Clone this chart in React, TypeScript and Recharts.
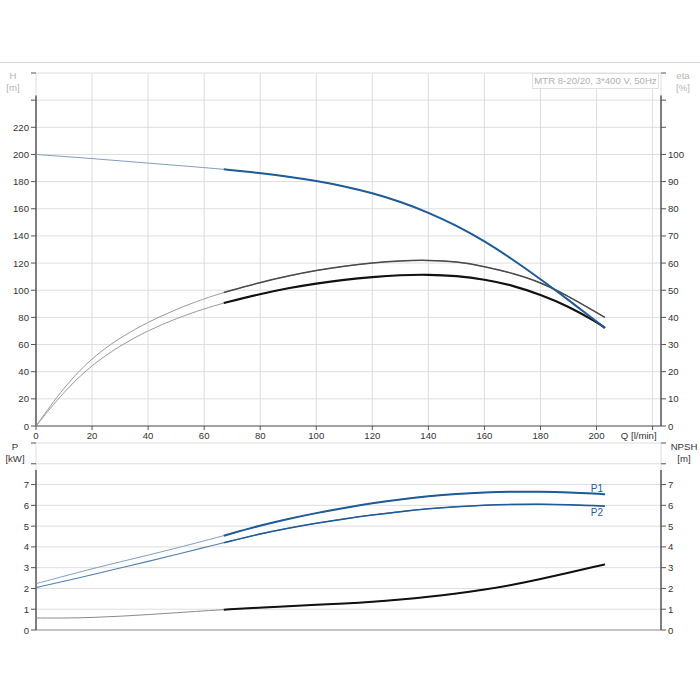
import React from 'react';
import { LineChart, Line, XAxis, YAxis, CartesianGrid, ReferenceLine } from 'recharts';

// Flow rate Q [l/min]
const Q = [0, 10, 20, 30, 40, 50, 60, 67, 80, 90, 100, 110, 120, 130, 140, 150, 160, 170, 180, 190, 200, 203];
// Head H [m]
const H = [200, 198.5, 197, 195.3, 193.6, 192, 190.3, 189.1, 186.3, 183.7, 180.6, 176.6, 171.6, 165.2, 157.3, 147.7, 136.3, 122.8, 108.2, 92.8, 77, 72.3];
// Efficiency [%] (upper and lower curves)
const ETA_A = [0, 14.5, 25.2, 32.6, 38.3, 43, 46.9, 49.2, 52.9, 55.3, 57.3, 58.9, 60.1, 60.9, 61.1, 60.6, 58.8, 56.3, 53, 47.8, 41.8, 40];
const ETA_B = [0, 12.8, 22.6, 29.6, 35.2, 39.6, 43.2, 45.3, 48.6, 50.8, 52.5, 53.9, 54.9, 55.6, 55.8, 55.3, 54, 51.8, 48.4, 44.1, 38.3, 36.1];
// Power [kW]
const P1 = [2.23, 2.59, 2.95, 3.28, 3.6, 3.94, 4.29, 4.54, 5.03, 5.35, 5.63, 5.88, 6.1, 6.29, 6.44, 6.55, 6.62, 6.66, 6.66, 6.63, 6.56, 6.53];
const P2 = [2.04, 2.35, 2.66, 2.98, 3.3, 3.63, 3.97, 4.2, 4.63, 4.9, 5.14, 5.35, 5.54, 5.7, 5.84, 5.94, 6.01, 6.05, 6.06, 6.04, 5.98, 5.96];
// NPSH [m]
const NPSH = [0.58, 0.57, 0.6, 0.66, 0.74, 0.83, 0.92, 0.98, 1.08, 1.15, 1.21, 1.27, 1.35, 1.46, 1.59, 1.75, 1.94, 2.17, 2.45, 2.76, 3.07, 3.16];

const DUTY_START = 67;
const Q_MAX = 223;
const Q_TICKS = [0, 20, 40, 60, 80, 100, 120, 140, 160, 180, 200, 220];
const H_TICKS = [0, 20, 40, 60, 80, 100, 120, 140, 160, 180, 200, 220, 240, 260];
const ETA_TICKS = [0, 10, 20, 30, 40, 50, 60, 70, 80, 90, 100, 110, 120, 130];
const P_TICKS = [0, 1, 2, 3, 4, 5, 6, 7, 8, 9];

const TITLE = 'MTR 8-20/20, 3*400 V, 50Hz';

const duty = (arr: number[]) => arr.map((v, i) => (Q[i] >= DUTY_START ? v : null));

const topData = Q.map((q, i) => ({
  q,
  h: H[i],
  hD: duty(H)[i],
  ea: ETA_A[i],
  eaD: duty(ETA_A)[i],
  eb: ETA_B[i],
  ebD: duty(ETA_B)[i],
}));

const bottomData = Q.map((q, i) => ({
  q,
  p1: P1[i],
  p1D: duty(P1)[i],
  p2: P2[i],
  p2D: duty(P2)[i],
  n: NPSH[i],
  nD: duty(NPSH)[i],
}));

const FONT = '"Liberation Sans", Arial, sans-serif';
const FS = 9.6;
const TXT = '#333';
const GRID = '#dedede';
const BLUE = '#1d5b9b';
const BLUE_THIN = '#7f9ec2';
const CURVE = 'basis' as const;

const LeftTick = (max: number) => (props: any) => {
  const { x, y, payload } = props;
  if (payload.value > max) return <g />;
  return (
    <text x={x} y={y} dy={3.5} textAnchor="end" fontSize={FS} fontFamily={FONT} fill={TXT}>
      {payload.value}
    </text>
  );
};

const RightTick = (max: number) => (props: any) => {
  const { x, y, payload } = props;
  if (payload.value > max) return <g />;
  return (
    <text x={x} y={y} dy={3.5} textAnchor="start" fontSize={FS} fontFamily={FONT} fill={TXT}>
      {payload.value}
    </text>
  );
};

const XTick = (props: any) => {
  const { x, y, payload } = props;
  if (payload.value === 220) {
    return (
      <text x={x + 4} y={y} dy={7} textAnchor="end" fontSize={FS} fontFamily={FONT} fill={TXT}>
        Q [l/min]
      </text>
    );
  }
  return (
    <text x={x} y={y} dy={7} textAnchor="middle" fontSize={FS} fontFamily={FONT} fill={TXT}>
      {payload.value}
    </text>
  );
};

const lastIdx = Q.length - 1;
const p1Label = (props: any) => {
  const { x, y, index } = props;
  if (index !== lastIdx) return <g />;
  return (
    <text x={x - 8} y={y - 2.5} textAnchor="middle" fontSize={FS + 0.4} fontFamily={FONT} fill={BLUE}>
      P1
    </text>
  );
};
const p2Label = (props: any) => {
  const { x, y, index } = props;
  if (index !== lastIdx) return <g />;
  return (
    <text x={x - 8} y={y + 10} textAnchor="middle" fontSize={FS + 0.4} fontFamily={FONT} fill={BLUE}>
      P2
    </text>
  );
};

const labelStyle = (color: string): React.CSSProperties => ({
  position: 'absolute',
  fontFamily: FONT,
  fontSize: FS,
  color,
  textAlign: 'center',
  lineHeight: '12px',
  width: 40,
});

export default function App() {
  return (
    <div style={{ position: 'absolute', left: 0, top: 0, width: 700, height: 700, background: '#fff', overflow: 'hidden' }}>
      <div style={{ position: 'absolute', left: 0, top: 62, width: 700, height: 1, background: '#d4d4d4' }} />

      <div style={{ position: 'absolute', left: 0, top: 0 }}>
        <LineChart width={700} height={445} data={topData} margin={{ top: 73, right: 0, bottom: 0, left: 0 }}>
          <CartesianGrid stroke={GRID} yAxisId="h" />
          <XAxis
            dataKey="q"
            type="number"
            domain={[0, Q_MAX]}
            ticks={Q_TICKS}
            height={19}
            tickSize={4}
            tickMargin={2}
            tick={XTick}
            axisLine={{ stroke: '#555' }}
            tickLine={{ stroke: '#555' }}
            interval={0}
          />
          <YAxis
            yAxisId="h"
            type="number"
            domain={[0, 260]}
            ticks={H_TICKS}
            width={36}
            tickSize={5}
            tickMargin={2}
            tick={LeftTick(220)}
            axisLine={false}
            tickLine={{ stroke: '#555' }}
            interval={0}
          />
          <YAxis
            yAxisId="eta"
            orientation="right"
            type="number"
            domain={[0, 130]}
            ticks={ETA_TICKS}
            width={39}
            tickSize={5}
            tickMargin={2}
            tick={RightTick(100)}
            axisLine={false}
            tickLine={{ stroke: '#555' }}
            interval={0}
          />
          <ReferenceLine yAxisId="h" segment={[{ x: 0, y: 0 }, { x: 0, y: 243.5 }]} stroke="#333" strokeWidth={1.2} ifOverflow="visible" />
          <ReferenceLine yAxisId="h" segment={[{ x: Q_MAX, y: 0 }, { x: Q_MAX, y: 243.5 }]} stroke="#333" strokeWidth={1.2} ifOverflow="visible" />

          <Line yAxisId="eta" dataKey="ea" stroke="#9a9a9a" strokeWidth={1} dot={false} type={CURVE} isAnimationActive={false} />
          <Line yAxisId="eta" dataKey="eb" stroke="#9a9a9a" strokeWidth={1} dot={false} type={CURVE} isAnimationActive={false} />
          <Line yAxisId="h" dataKey="h" stroke={BLUE_THIN} strokeWidth={1} dot={false} type={CURVE} isAnimationActive={false} />
          <Line yAxisId="eta" dataKey="eaD" stroke="#4a4a4a" strokeWidth={1.5} dot={false} type={CURVE} isAnimationActive={false} connectNulls={false} />
          <Line yAxisId="eta" dataKey="ebD" stroke="#111" strokeWidth={2.2} dot={false} type={CURVE} isAnimationActive={false} connectNulls={false} />
          <Line yAxisId="h" dataKey="hD" stroke={BLUE} strokeWidth={2} dot={false} type={CURVE} isAnimationActive={false} connectNulls={false} />
        </LineChart>
      </div>

      <div style={{ position: 'absolute', left: 0, top: 430 }}>
        <LineChart width={700} height={210} data={bottomData} margin={{ top: 13, right: 0, bottom: 10, left: 0 }}>
          <CartesianGrid stroke={GRID} yAxisId="p" />
          <XAxis dataKey="q" type="number" domain={[0, Q_MAX]} ticks={Q_TICKS} height={0} tick={false} axisLine={false} tickLine={false} interval={0} />
          <YAxis
            yAxisId="p"
            type="number"
            domain={[0, 9]}
            ticks={P_TICKS}
            width={36}
            tickSize={5}
            tickMargin={2}
            tick={LeftTick(7)}
            axisLine={false}
            tickLine={{ stroke: '#555' }}
            interval={0}
          />
          <YAxis
            yAxisId="n"
            orientation="right"
            type="number"
            domain={[0, 9]}
            ticks={P_TICKS}
            width={39}
            tickSize={5}
            tickMargin={2}
            tick={RightTick(7)}
            axisLine={false}
            tickLine={{ stroke: '#555' }}
            interval={0}
          />
          <ReferenceLine yAxisId="p" y={0} stroke="#999" ifOverflow="visible" />
          <ReferenceLine yAxisId="p" segment={[{ x: 0, y: 0 }, { x: 0, y: 7.7 }]} stroke="#333" strokeWidth={1.2} ifOverflow="visible" />
          <ReferenceLine yAxisId="p" segment={[{ x: Q_MAX, y: 0 }, { x: Q_MAX, y: 7.7 }]} stroke="#333" strokeWidth={1.2} ifOverflow="visible" />

          <Line yAxisId="p" dataKey="p1" stroke={BLUE_THIN} strokeWidth={1} dot={false} type={CURVE} isAnimationActive={false} />
          <Line yAxisId="p" dataKey="p2" stroke="#4f7fb3" strokeWidth={1.1} dot={false} type={CURVE} isAnimationActive={false} />
          <Line yAxisId="n" dataKey="n" stroke="#8a8a8a" strokeWidth={1} dot={false} type={CURVE} isAnimationActive={false} />
          <Line yAxisId="p" dataKey="p1D" stroke={BLUE} strokeWidth={2} dot={false} type={CURVE} isAnimationActive={false} label={p1Label} />
          <Line yAxisId="p" dataKey="p2D" stroke={BLUE} strokeWidth={1.5} dot={false} type={CURVE} isAnimationActive={false} label={p2Label} />
          <Line yAxisId="n" dataKey="nD" stroke="#111" strokeWidth={2} dot={false} type={CURVE} isAnimationActive={false} />
        </LineChart>
      </div>

      <div style={{ ...labelStyle('#b5b5b5'), left: -7, top: 70 }}>H<br />[m]</div>
      <div style={{ ...labelStyle('#b5b5b5'), left: 663, top: 70 }}>eta<br />[%]</div>
      <div style={{ ...labelStyle(TXT), left: -5, top: 441 }}>P<br />[kW]</div>
      <div style={{ ...labelStyle(TXT), left: 664, top: 441 }}>NPSH<br />[m]</div>

      <div
        style={{
          position: 'absolute',
          left: 532,
          top: 73,
          width: 125,
          height: 14,
          border: '1px solid #e0e0e0',
          background: '#fff',
          fontFamily: FONT,
          fontSize: FS,
          color: '#b0b0b0',
          lineHeight: '14px',
          textAlign: 'center',
          whiteSpace: 'nowrap',
        }}
      >
        {TITLE}
      </div>
    </div>
  );
}
